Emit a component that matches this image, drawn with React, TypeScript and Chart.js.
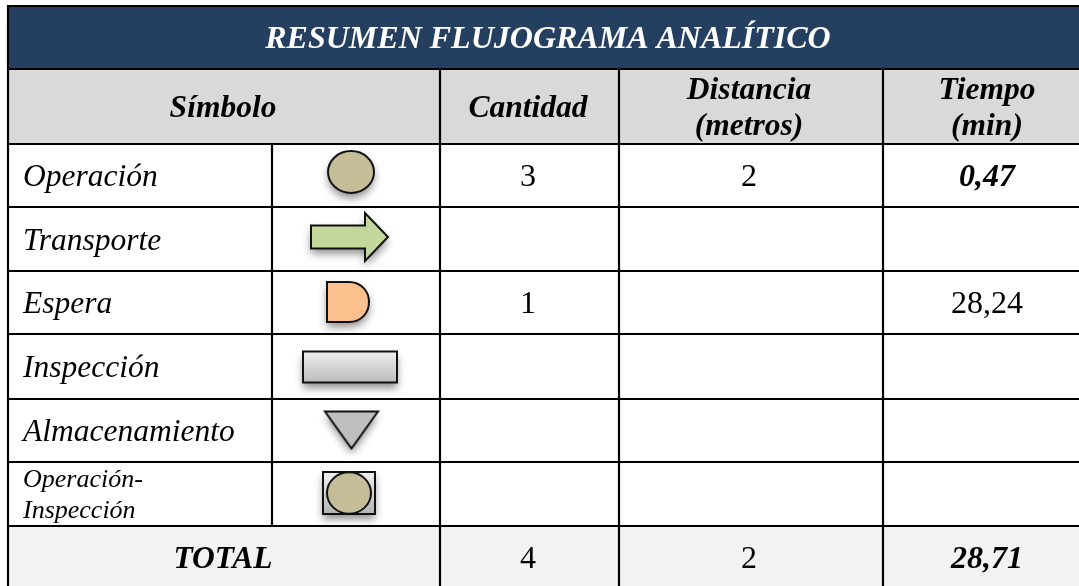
import React, { useEffect, useRef } from "react";
import { Chart, registerables } from "chart.js";

Chart.register(...registerables);

// ---- table content ----
const title = "RESUMEN FLUJOGRAMA ANALÍTICO";
const headers = ["Símbolo", "Cantidad", "Distancia\n(metros)", "Tiempo\n(min)"];
const activities = ["Operación", "Transporte", "Espera", "Inspección", "Almacenamiento", "Operación-\nInspección"];
const symbolKinds = ["circle", "arrow", "delay", "rect", "triangle", "combo"];
const cantidad = ["3", "", "1", "", "", ""];
const distancia = ["2", "", "", "", "", ""];
const tiempo = ["0,47", "", "28,24", "", "", ""];
const boldTiempo = [true, false, false, false, false, false];
const totalLabel = "TOTAL";
const totals = ["4", "2", "28,71"];

// ---- table layout (in page units, mapped through the chart's scales) ----
const WIDTH = 1079;
const HEIGHT = 586;
const xEdges = [8, 272, 440, 619, 883, 1079];
const yEdges = [6, 69, 144, 207, 271, 334, 399, 462, 526, 586];
const rowBaselines = [186, 250, 313, 377, 441, 0];
const colCenters = { symbolHeader: 223, cantidad: 528, distancia: 749, tiempo: 987 };
const labelX = 23;
const symbolCenters = [
  [351, 172], [350, 237], [348, 302], [350, 367], [351.5, 430], [349, 493],
];

const serif = '"Liberation Serif", "Times New Roman", serif';
const NAVY = "#243F60";
const HEAD = "#D9D9D9";
const FOOT = "#F2F2F2";

function makeSymbol(kind: string): HTMLCanvasElement {
  const W = 120, H = 84;
  const c = document.createElement("canvas");
  c.width = W; c.height = H;
  const g = c.getContext("2d")!;
  g.translate(W / 2, H / 2);
  g.lineWidth = 2;
  g.lineJoin = "miter";
  g.strokeStyle = "#111";
  const paint = (path: () => void, fill: string | CanvasGradient, shadow = true) => {
    g.save();
    if (shadow) {
      g.shadowColor = "rgba(0,0,0,0.45)";
      g.shadowBlur = 8;
      g.shadowOffsetY = 5;
    }
    g.beginPath(); path(); g.fillStyle = fill; g.fill();
    g.restore();
    g.beginPath(); path(); g.stroke();
  };
  const vgrad = (y0: number, y1: number, a: string, b: string) => {
    const lg = g.createLinearGradient(0, y0, 0, y1);
    lg.addColorStop(0, a); lg.addColorStop(1, b);
    return lg;
  };
  if (kind === "circle") {
    paint(() => g.ellipse(0, 0, 23, 21, 0, 0, Math.PI * 2), "#C4BD97");
  } else if (kind === "arrow") {
    paint(() => {
      g.moveTo(-39, -11.5); g.lineTo(15, -11.5); g.lineTo(15, -24); g.lineTo(38, 0);
      g.lineTo(15, 24); g.lineTo(15, 11.5); g.lineTo(-39, 11.5); g.closePath();
    }, "#C3D69B");
  } else if (kind === "delay") {
    paint(() => {
      g.moveTo(-21, -20); g.lineTo(1, -20);
      g.bezierCurveTo(13, -20, 21, -11, 21, 0);
      g.bezierCurveTo(21, 11, 13, 20, 1, 20);
      g.lineTo(-21, 20); g.closePath();
    }, "#FBC08E");
  } else if (kind === "rect") {
    paint(() => g.rect(-47, -15.5, 94, 31), vgrad(-15, 15, "#EEEEEE", "#BCBCBC"));
  } else if (kind === "triangle") {
    paint(() => {
      g.moveTo(-26.5, -18.5); g.lineTo(26.5, -18.5); g.lineTo(0, 18.5); g.closePath();
    }, "#BFBFBF");
  } else {
    paint(() => g.rect(-26, -21, 52, 42), vgrad(-21, 21, "#F0F0F0", "#B4B4B4"));
    paint(() => g.ellipse(0, 0, 22, 20.7, 0, 0, Math.PI * 2), "#C4BD97", false);
  }
  return c;
}

type Txt = { t: string; x: number; y: number; font: string; color?: string; align?: CanvasTextAlign };

export default function App() {
  const ref = useRef<HTMLCanvasElement>(null);
  useEffect(() => {
    const [x0, x1, x2, x3, x4, x5] = xEdges;
    const [y0, y1, y2, , , , , , y8, y9] = yEdges;
    const gap = { x: NaN, y: NaN };
    const seg = (ax: number, ay: number, bx: number, by: number) => [{ x: ax, y: ay }, { x: bx, y: by }, gap];
    const lines: any[] = [
      ...seg(x0, y0, x5, y0),
      ...yEdges.slice(1, 9).flatMap((y) => seg(x0, y, x5, y)),
      ...seg(x0, y0, x0, y9),
      ...seg(x1, y2, x1, y8),
      ...[x2, x3, x4].flatMap((x) => seg(x, y1, x, y9)),
    ];

    const bodyFont = `italic 31.5px ${serif}`;
    const smallFont = `italic 26px ${serif}`;
    const numFont = `32px ${serif}`;
    const boldFont = `italic bold 32px ${serif}`;
    const headFont = `italic bold 31.5px ${serif}`;

    const texts: Txt[] = [];
    const center = (t: string, x: number, y: number, font: string, color?: string) =>
      texts.push({ t, x, y, font, color, align: "center" });

    center(title, 548, 48, `italic bold 32px ${serif}`, "#FFFFFF");
    center(headers[0], colCenters.symbolHeader, 117, headFont);
    center(headers[1], colCenters.cantidad, 117, headFont);
    const hCols = [colCenters.distancia, colCenters.tiempo];
    [headers[2], headers[3]].forEach((h, i) => {
      const [a, b] = h.split("\n");
      center(a, hCols[i], 99, headFont);
      center(b, hCols[i], 135, headFont);
    });
    activities.forEach((label, i) => {
      const base = rowBaselines[i];
      if (label.includes("\n")) {
        const [a, b] = label.split("\n");
        texts.push({ t: a, x: labelX, y: 487, font: smallFont, align: "left" });
        texts.push({ t: b, x: labelX, y: 518, font: smallFont, align: "left" });
      } else {
        texts.push({ t: label, x: labelX, y: base, font: bodyFont, align: "left" });
      }
      if (cantidad[i]) center(cantidad[i], colCenters.cantidad, base, numFont);
      if (distancia[i]) center(distancia[i], colCenters.distancia, base, numFont);
      if (tiempo[i]) center(tiempo[i], colCenters.tiempo, base, boldTiempo[i] ? boldFont : numFont);
    });
    center(totalLabel, colCenters.symbolHeader, 568, headFont);
    center(totals[0], colCenters.cantidad, 568, numFont);
    center(totals[1], colCenters.distancia, 568, numFont);
    center(totals[2], colCenters.tiempo, 568, boldFont);

    const bands = [
      { x: x0, xe: x5, y: y0, ye: y1, c: NAVY },
      { x: x0, xe: x5, y: y1, ye: y2, c: HEAD },
      { x: x0, xe: x5, y: y8, ye: y9, c: FOOT },
    ];

    const tablePlugin = {
      id: "table",
      beforeDatasetsDraw(chart: any) {
        const { ctx, scales } = chart;
        const X = scales.x, Y = scales.y;
        ctx.save();
        bands.forEach((b) => {
          ctx.fillStyle = b.c;
          const px = X.getPixelForValue(b.x), py = Y.getPixelForValue(b.y);
          ctx.fillRect(px, py, X.getPixelForValue(b.xe) - px, Y.getPixelForValue(b.ye) - py);
        });
        ctx.restore();
      },
      afterDatasetsDraw(chart: any) {
        const { ctx, scales } = chart;
        ctx.save();
        ctx.textBaseline = "alphabetic";
        texts.forEach((d) => {
          ctx.font = d.font;
          ctx.textAlign = d.align || "left";
          ctx.fillStyle = d.color || "#000000";
          ctx.fillText(d.t, scales.x.getPixelForValue(d.x), scales.y.getPixelForValue(d.y));
        });
        ctx.restore();
      },
    };

    const chart = new Chart(ref.current!, {
      type: "scatter",
      data: {
        datasets: [
          {
            label: "Líneas",
            data: lines,
            showLine: true,
            spanGaps: false,
            borderColor: "#000000",
            borderWidth: 2.2,
            borderCapStyle: "square",
            pointRadius: 0,
            clip: false,
            order: 2,
          },
          {
            label: "Símbolos",
            data: symbolCenters.map(([x, y]) => ({ x, y })),
            pointStyle: symbolKinds.map(makeSymbol),
            pointRadius: 10,
            showLine: false,
            clip: false,
            order: 1,
          },
        ],
      } as any,
      options: {
        responsive: false,
        animation: false,
        events: [],
        layout: { padding: 0, autoPadding: false },
        plugins: { legend: { display: false }, tooltip: { enabled: false }, title: { display: false } },
        scales: {
          x: { type: "linear", min: 0, max: WIDTH, display: false },
          y: { type: "linear", min: 0, max: HEIGHT, reverse: true, display: false },
        },
      },
      plugins: [tablePlugin],
    } as any);
    return () => chart.destroy();
  }, []);
  return (
    <canvas
      ref={ref}
      width={WIDTH}
      height={HEIGHT}
      style={{ position: "absolute", left: 0, top: 0, width: WIDTH, height: HEIGHT, display: "block" }}
    />
  );
}
